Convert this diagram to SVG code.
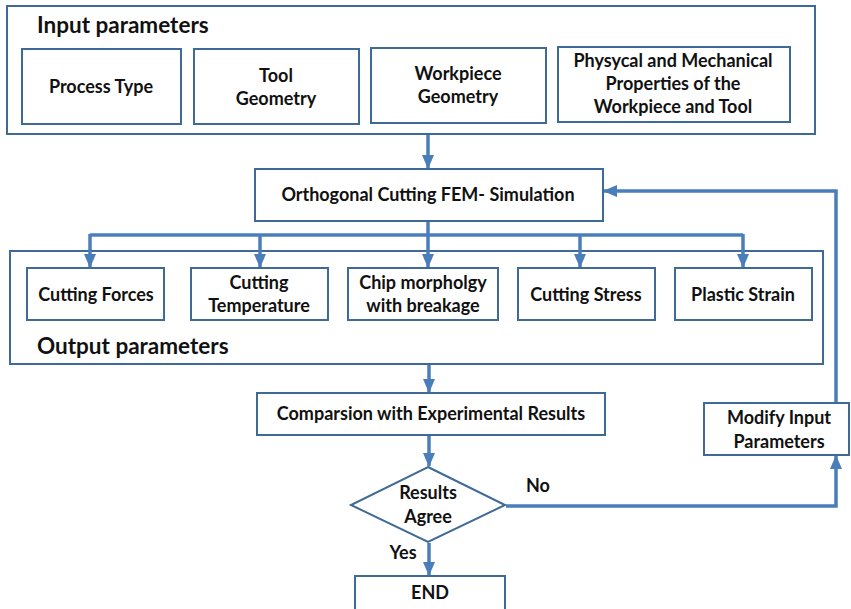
<svg xmlns="http://www.w3.org/2000/svg" width="851" height="609" viewBox="0 0 851 609">
<defs>
<style>
.box{fill:#fff;stroke:#3F6A97;stroke-width:2}
.frame{fill:none;stroke:#3F6A97;stroke-width:2}
.t{font-family:Lato,"Liberation Sans",sans-serif;font-weight:700;font-size:18px;fill:#111;text-anchor:middle}
.h{font-family:Lato,"Liberation Sans",sans-serif;font-weight:700;font-size:22.5px;fill:#111}
.c{fill:none;stroke:#4A7EBB;stroke-width:3.5}
</style>
<marker id="ah" markerUnits="userSpaceOnUse" markerWidth="14" markerHeight="14" viewBox="0 0 14 14" refX="13" refY="7" orient="auto">
<path d="M0,1 L14,7 L0,13 Z" fill="#4A7EBB"/>
</marker>
</defs>
<rect width="851" height="609" fill="#fff"/>

<g id="input-frame">
<rect class="frame" x="7" y="6" width="808" height="128"/>
<text class="h" x="37" y="33">Input parameters</text>
</g>
<g id="process-type"><rect class="box" x="22" y="49" width="159" height="75"/><text class="t" x="101" y="93">Process Type</text></g>
<g id="tool-geometry"><rect class="box" x="194" y="49" width="165" height="75"/><text class="t" x="276" y="82">Tool</text><text class="t" x="276" y="105">Geometry</text></g>
<g id="workpiece-geometry"><rect class="box" x="371" y="48" width="175" height="75"/><text class="t" x="458" y="80">Workpiece</text><text class="t" x="458" y="103">Geometry</text></g>
<g id="properties"><rect class="box" x="558" y="47" width="232" height="75"/><text class="t" x="673" y="67">Physycal and Mechanical</text><text class="t" x="673" y="90">Properties of the</text><text class="t" x="673" y="113">Workpiece and Tool</text></g>

<g id="fem"><rect class="box" x="255" y="169" width="348" height="52"/><text class="t" x="428" y="201">Orthogonal Cutting FEM- Simulation</text></g>

<g id="output-frame">
<rect class="frame" x="10" y="251" width="813" height="113"/>
<text class="h" x="37" y="354">Output parameters</text>
</g>
<g id="cutting-forces"><rect class="box" x="27" y="268" width="137" height="52"/><text class="t" x="96" y="301">Cutting Forces</text></g>
<g id="cutting-temperature"><rect class="box" x="191" y="268" width="137" height="52"/><text class="t" x="259" y="289">Cutting</text><text class="t" x="259" y="312">Temperature</text></g>
<g id="chip-morphology"><rect class="box" x="348" y="268" width="150" height="52"/><text class="t" x="423" y="289">Chip morpholgy</text><text class="t" x="423" y="312">with breakage</text></g>
<g id="cutting-stress"><rect class="box" x="518" y="268" width="137" height="52"/><text class="t" x="586" y="301">Cutting Stress</text></g>
<g id="plastic-strain"><rect class="box" x="675" y="268" width="137" height="52"/><text class="t" x="743" y="301">Plastic Strain</text></g>

<g id="comparison"><rect class="box" x="257" y="393" width="348" height="42"/><text class="t" x="431" y="420">Comparsion with Experimental Results</text></g>
<g id="decision"><polygon class="box" points="428,467 505,505 428,542 351,505"/><text class="t" x="428" y="499">Results</text><text class="t" x="428" y="523">Agree</text></g>
<g id="end"><rect class="box" x="355" y="576" width="150" height="40"/><text class="t" x="430" y="599">END</text></g>
<g id="modify"><rect class="box" x="704" y="403" width="145" height="52"/><text class="t" x="779" y="424">Modify Input</text><text class="t" x="779" y="448">Parameters</text></g>

<g id="connectors">
<path class="c" d="M428,135 V168" marker-end="url(#ah)"/>
<path class="c" d="M428,222 V235"/>
<path class="c" d="M90,235 H743"/>
<path class="c" d="M90,234 V267" marker-end="url(#ah)"/>
<path class="c" d="M260,234 V267" marker-end="url(#ah)"/>
<path class="c" d="M428,234 V267" marker-end="url(#ah)"/>
<path class="c" d="M580,234 V267" marker-end="url(#ah)"/>
<path class="c" d="M743,234 V267" marker-end="url(#ah)"/>
<path class="c" d="M429,365 V392" marker-end="url(#ah)"/>
<path class="c" d="M429,436 V466" marker-end="url(#ah)"/>
<path class="c" d="M429,543 V575" marker-end="url(#ah)"/>
<path class="c" d="M506,506 H836 V456" marker-end="url(#ah)"/>
<path class="c" d="M836,402 V191 H604" marker-end="url(#ah)"/>
<text class="t" x="538" y="492">No</text>
<text class="t" x="403" y="559">Yes</text>
</g>
</svg>
